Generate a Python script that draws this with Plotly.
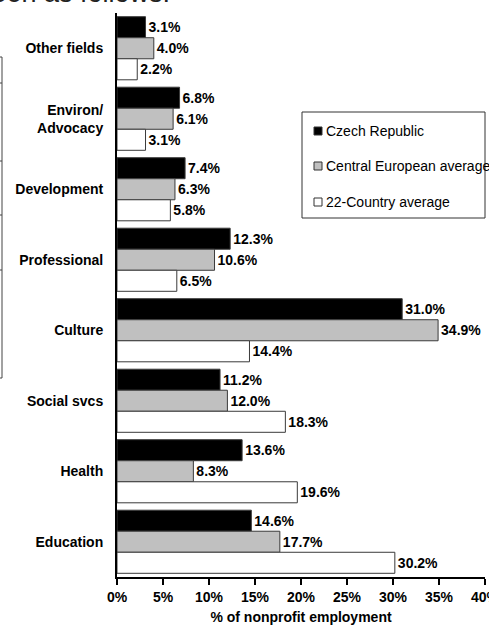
import plotly.graph_objects as go

# ---- data (top to bottom as shown) ----
fields = ["Other fields", "Environ/<br>Advocacy", "Development", "Professional",
          "Culture", "Social svcs", "Health", "Education"]
czech = [3.1, 6.8, 7.4, 12.3, 31.0, 11.2, 13.6, 14.6]
central_eu = [4.0, 6.1, 6.3, 10.6, 34.9, 12.0, 8.3, 17.7]
country22 = [2.2, 3.1, 5.8, 6.5, 14.4, 18.3, 19.6, 30.2]

series = [
    ("Czech Republic", czech, "#000000"),
    ("Central European average", central_eu, "#c0c0c0"),
    ("22-Country average", country22, "#ffffff"),
]
x_ticks = [0, 5, 10, 15, 20, 25, 30, 35, 40]

FONT = "Liberation Sans, Arial, sans-serif"
W, H = 489, 633
L, R, T, B = 117, 4, 13, 56


# pixel -> paper helpers (for the decorations / hand-drawn legend)
def px_x(px):
    return (px - L) / (W - L - R)


def px_y(py):
    return (H - B - py) / (H - T - B)


fig = go.Figure()
for name, vals, color in series:
    fig.add_trace(go.Bar(
        y=fields, x=vals, name=name, orientation="h",
        marker=dict(color=color, line=dict(color="#3a3a3a", width=1)),
        text=vals, texttemplate="%{x:.1f}%", textposition="outside",
        textfont=dict(family=FONT, size=14, color="black", weight="bold"),
        constraintext="none", cliponaxis=False, showlegend=False,
    ))

fig.update_layout(
    width=W, height=H,
    margin=dict(l=L, r=R, t=T, b=B),
    paper_bgcolor="white", plot_bgcolor="white",
    barmode="group", bargap=0.105, bargroupgap=0,
    font=dict(family=FONT, size=14, color="black"),
    xaxis=dict(
        range=[0, 40], tickvals=x_ticks, ticktext=[f"{v}%" for v in x_ticks],
        showgrid=False, zeroline=False, showline=True, linecolor="black", linewidth=2,
        ticks="outside", ticklen=6, tickwidth=2, tickcolor="black",
        ticklabeloverflow="allow", automargin=False,
        tickfont=dict(family=FONT, size=14, weight="bold"),
        title=dict(text="% of nonprofit employment", standoff=8,
                   font=dict(family=FONT, size=14, weight="bold")),
    ),
    yaxis=dict(
        autorange="reversed", showgrid=False, zeroline=False,
        showline=True, linecolor="black", linewidth=2, ticks="",
        ticklabelstandoff=9, automargin=False,
        tickfont=dict(family=FONT, size=14, weight="bold"),
    ),
)

# hand-drawn legend box (text overflows the frame like the source)
shapes = [dict(type="rect", xref="paper", yref="paper",
               x0=px_x(302), x1=px_x(485), y0=px_y(218), y1=px_y(112),
               line=dict(color="#333333", width=1), fillcolor="white", layer="above")]
annotations = []
for (name, _, color), cy in zip(series, [131, 166, 202]):
    shapes.append(dict(type="rect", xref="paper", yref="paper",
                       x0=px_x(314), x1=px_x(322), y0=px_y(cy + 4), y1=px_y(cy - 4),
                       line=dict(color="#333333", width=1), fillcolor=color, layer="above"))
    annotations.append(dict(xref="paper", yref="paper", x=px_x(324), y=px_y(cy),
                            xanchor="left", yanchor="middle", showarrow=False,
                            text=name, font=dict(family=FONT, size=14, color="black")))

# bits of the surrounding page that show in the crop
shapes.append(dict(type="line", xref="paper", yref="paper",
                   x0=px_x(2), x1=px_x(2), y0=px_y(57), y1=px_y(378),
                   line=dict(color="#444444", width=1)))
for ty in [57, 83, 161, 215, 270, 378]:
    shapes.append(dict(type="line", xref="paper", yref="paper",
                       x0=px_x(0), x1=px_x(2), y0=px_y(ty), y1=px_y(ty),
                       line=dict(color="#444444", width=1)))
annotations.append(dict(xref="paper", yref="paper", x=px_x(172), y=px_y(10),
                        xanchor="right", yanchor="bottom", showarrow=False,
                        text="seen as follows:", font=dict(family=FONT, size=27, color="#222222")))

fig.update_layout(shapes=shapes, annotations=annotations)

fig.write_html("out.html", config={"displayModeBar": False},
               post_script="document.body.style.margin='0px';")
